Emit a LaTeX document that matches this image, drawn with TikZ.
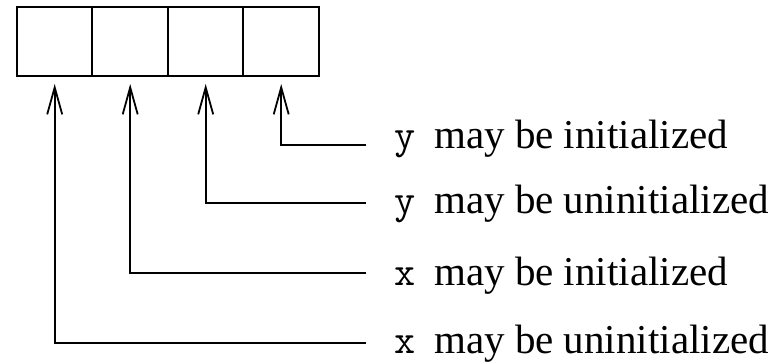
\documentclass[tikz,border=0pt]{standalone}
\usepackage{fontspec}
\setmainfont{Liberation Serif}
\usetikzlibrary{arrows.meta}
% variable name in typewriter type, followed by a fixed gap
\newcommand{\varname}[1]{\makebox[40pt][l]{\texttt{#1}}}
\begin{document}
\begin{tikzpicture}[x=1pt,y=-1pt,
  cell/.style={draw,line width=2pt,minimum width=75.5pt,minimum height=69pt,inner sep=0pt,outer sep=0pt},
  lbl/.style={anchor=base west,inner sep=0pt,font=\fontsize{41}{44}\selectfont},
  ptr/.style={line width=1.8pt,-{Straight Barb[length=27pt,width=15pt,line width=1.8pt]},shorten >=8pt}]
  \useasboundingbox (0,0) rectangle (776,363);
  % the four cells of the array
  \node[cell] (c1) at (54.7,41.5) {};
  \node[cell] (c2) at (130.2,41.5) {};
  \node[cell] (c3) at (205.7,41.5) {};
  \node[cell] (c4) at (281.2,41.5) {};
  % descriptions of the cells
  \node[lbl] (t1) at (394,149) {\varname{y}may be initialized};
  \node[lbl] (t2) at (394,214) {\varname{y}may be uninitialized};
  \node[lbl] (t3) at (394,285) {\varname{x}may be initialized};
  \node[lbl] (t4) at (394,353) {\varname{x}may be uninitialized};
  % free ends of the pointer lines
  \coordinate (e1) at (366,145);
  \coordinate (e2) at (366,203);
  \coordinate (e3) at (366,273);
  \coordinate (e4) at (366,343);
  \draw[ptr] (e1) -| (c4.south);
  \draw[ptr] (e2) -| (c3.south);
  \draw[ptr] (e3) -| (c2.south);
  \draw[ptr] (e4) -| (c1.south);
\end{tikzpicture}
\end{document}
